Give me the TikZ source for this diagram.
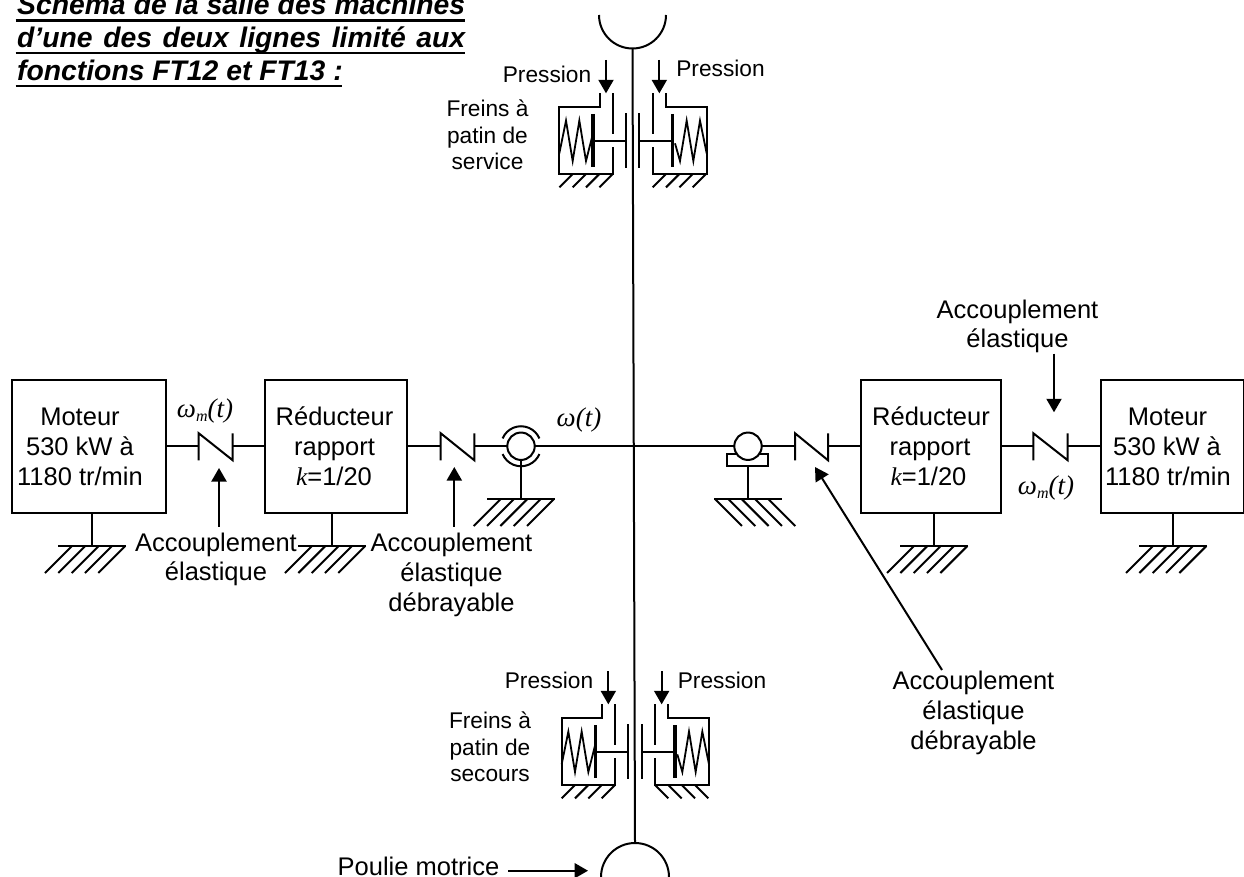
\documentclass[tikz,border=0pt]{standalone}
\usepackage{fontspec}
\setmainfont{Liberation Sans}
\newfontfamily\serfont{Liberation Serif}
\usetikzlibrary{arrows.meta}
\newcommand{\fontA}{\fontsize{25.5}{30}\selectfont}
\newcommand{\fontB}{\fontsize{22.7}{27}\selectfont}
\newcommand{\fontT}{\fontsize{28.3}{33}\selectfont\bfseries\itshape}
\newcommand{\omm}{{\serfont\itshape\fontsize{27}{30}\selectfont ω\raisebox{-4pt}{\fontsize{16}{16}\selectfont m}(t)}}
\newcommand{\kk}{{\serfont\itshape k}}
\tikzset{
  ln/.style={line width=2pt,black},
  spr/.style={line width=1.8pt,black,line join=miter},
  pist/.style={line width=3.6pt,black},
  arr/.style={line width=2pt,-{Triangle[length=13.5pt,width=15pt]}},
  box/.style={draw,line width=2pt,anchor=north west,inner sep=0pt,outer sep=0pt},
  lab/.style={anchor=base,inner sep=0pt,font=\fontA,text=black},
  labs/.style={anchor=base,inner sep=0pt,font=\fontB,text=black},
  ttl/.style={anchor=base west,inner sep=0pt,font=\fontT,text=black},
  bear/.style={circle,draw,line width=2pt,minimum size=27.4pt,inner sep=0pt,outer sep=0pt,fill=white}
}
\newcommand{\gnd}[3]{%
  \draw[ln] (#1-34,#2) -- (#1+34,#2);
  \foreach \k in {0,...,4}{
    \draw[ln] ({#1+#3*(-20.3+13.33*\k)},#2) -- ({#1+#3*(-47.3+13.33*\k)},#2+27);
  }}
\newcommand{\coupling}[4]{% name, x1, x2, y
  \coordinate (#1a) at (#2,#4);
  \coordinate (#1b) at (#3,#4);
  \draw[ln,line join=miter] (#2,#4+14) -- (#2,#4-13) -- (#3,#4+14) -- (#3,#4-13);
}
\newcommand{\brake}[3]{% xshift, yshift, hatch sign right
  \begin{scope}[xshift=#1pt,yshift=-#2pt,x=0.33333pt,y=-0.33333pt]
    \draw[ln,line join=miter] (360,280)--(360,322)--(238,322)--(238,522)--(398,522)--(398,440);
    \draw[ln] (398,280)--(398,403);
    \draw[pist] (339,342)--(339,500);
    \draw[ln] (339,422)--(437,422);
    \draw[ln] (437,340)--(437,503);
    \draw[spr] (238,460)--(258,362)--(278,483)--(298,362)--(318,483)--(339,400);
    \foreach \k in {0,...,3}{\draw[ln] (278+40*\k,522)--(238+40*\k,562);}
    \draw[arr] (378,180)--(378,280);
    \draw[ln,line join=miter] (558,280)--(558,322)--(680,322)--(680,522)--(518,522)--(518,440);
    \draw[ln] (518,280)--(518,403);
    \draw[pist] (578,342)--(578,500);
    \draw[ln] (478,422)--(578,422);
    \draw[ln] (478,340)--(478,503);
    \draw[spr] (585,430)--(600,483)--(620,362)--(640,483)--(660,362)--(680,460);
    \foreach \k in {0,...,3}{\draw[ln] ({538+40*\k+20*#3},522)--({538+40*\k-20*#3},562);}
    \draw[arr] (538,180)--(538,280);
  \end{scope}}
\begin{document}
\begin{tikzpicture}[x=1pt,y=-1pt]
\useasboundingbox (0,0) rectangle (1244,877);
\clip (0,0) rectangle (1244,877);
\fill[white] (0,0) rectangle (1244,877);

% title
\node[ttl] (t1) at (17,15) {\makebox[448pt][s]{Schéma de la salle des machines}};
\node[ttl] (t2) at (17,48) {\makebox[448pt][s]{d’une des deux lignes limité aux}};
\node[ttl] (t3) at (17,81) {fonctions FT12 et FT13 :};
\draw[line width=2.4pt] (15.5,20.5) -- (465,20.5);
\draw[line width=2.4pt] (15.5,53) -- (465,53);
\draw[line width=2.4pt] (15.5,86) -- (342,86);

% vertical shaft and pulleys
\coordinate (ptop) at (632.5,48.5);
\coordinate (pbot) at (635,843);
\draw[ln] (ptop) -- (pbot);
\draw[ln] (599,15) arc (180:0:33.5);
\draw[ln] (601,877) arc (180:360:34);

% brakes
\brake{480}{0}{1}
\brake{482.33}{611}{-1}

% boxes
\node[box,minimum width=154.5pt,minimum height=133.5pt] (mL) at (11.7,379.5) {};
\node[box,minimum width=141.5pt,minimum height=133.5pt] (rL) at (265.3,379.5) {};
\node[box,minimum width=139.5pt,minimum height=133.5pt] (rR) at (861.3,379.5) {};
\node[box,minimum width=143pt,minimum height=133.5pt] (mR) at (1100.7,379.5) {};

% couplings
\coupling{c1}{198.7}{232.7}{446.25}
\coupling{c2}{440.7}{474.3}{446.25}
\coupling{c3}{795}{828}{446.25}
\coupling{c4}{1033.3}{1067.7}{446.25}

% bearings
\node[bear] (bL) at (521,446.25) {};
\draw[ln] ([shift={(-157:20)}]bL.center) arc (-157:-23:20);
\draw[ln] ([shift={(157:20)}]bL.center) arc (157:23:20);
\draw[ln] (727.3,453.5) rectangle (768.3,466);
\node[bear] (bR) at (748,446.25) {};
\coordinate (bRs) at (748,466);

% shafts
\draw[ln] (mL.east) -- (c1a);
\draw[ln] (c1b) -- (rL.west);
\draw[ln] (rL.east) -- (c2a);
\draw[ln] (c2b) -- (bL.west);
\draw[ln] (bL.east) -- (bR.west);
\draw[ln] (bR.east) -- (c3a);
\draw[ln] (c3b) -- (rR.west);
\draw[ln] (rR.east) -- (c4a);
\draw[ln] (c4b) -- (mR.west);

% grounds
\draw[ln] (mL.south -| 92.3,0) -- (92.3,546);
\gnd{92.3}{546}{1}
\draw[ln] (rL.south -| 332.3,0) -- (332.3,546);
\gnd{332.3}{546}{1}
\draw[ln] (bL.south) -- (521,499);
\gnd{521}{499}{1}
\draw[ln] (bRs) -- (748,499);
\gnd{748}{499}{-1}
\draw[ln] (rR.south -| 934.3,0) -- (934.3,546);
\gnd{934.3}{546}{1}
\draw[ln] (mR.south -| 1173.3,0) -- (1173.3,546);
\gnd{1173.3}{546}{1}

% labels
\node[lab] (m1) at (80,425.5) {Moteur};
\node[lab] (m2) at (80,455) {530 kW à};
\node[lab] (m3) at (80,485) {1180 tr/min};
\node[lab] (r1) at (334.5,425.5) {Réducteur};
\node[lab] (r2) at (334.5,455) {rapport};
\node[lab] (r3) at (334,485) {\kk=1/20};
\node[lab] (r4) at (931,425.5) {Réducteur};
\node[lab] (r5) at (930,455) {rapport};
\node[lab] (r6) at (928.5,485) {\kk=1/20};
\node[lab] (m4) at (1167.5,425.5) {Moteur};
\node[lab] (m5) at (1167,455) {530 kW à};
\node[lab] (m6) at (1168,485) {1180 tr/min};

\node[lab] (a1) at (216,551) {Accouplement};
\node[lab] (a2) at (216,580) {élastique};
\node[lab] (a3) at (451.5,551) {Accouplement};
\node[lab] (a4) at (451.5,581) {élastique};
\node[lab] (a5) at (451.5,611) {débrayable};
\node[lab] (a6) at (1017.5,318) {Accouplement};
\node[lab] (a7) at (1017.5,347) {élastique};
\node[lab] (a8) at (973.5,689) {Accouplement};
\node[lab] (a9) at (973.5,719) {élastique};
\node[lab] (a10) at (973.5,749) {débrayable};
\node[lab] (pm) at (418.5,875.5) {Poulie motrice};

\node[lab] (w1) at (205,417) {\omm};
\node[lab] (w2) at (1046,494) {\omm};
\node[lab] (w3) at (579,426) {\serfont\itshape\fontsize{27}{30}\selectfont ω(t)};

\node[labs] (p1) at (547,83) {Pression};
\node[labs] (p2) at (720.5,76.5) {Pression};
\node[labs] (p3) at (549,688) {Pression};
\node[labs] (p4) at (722,688) {Pression};
\node[labs] (f1) at (487.5,117) {Freins à};
\node[labs] (f2) at (487.5,143.5) {patin de};
\node[labs] (f3) at (487.5,170) {service};
\node[labs] (f4) at (490,728) {Freins à};
\node[labs] (f5) at (490,755) {patin de};
\node[labs] (f6) at (490,781) {secours};

% arrows
\coordinate (A1s) at (219,526.7); \coordinate (A1e) at (219,468);
\coordinate (A2s) at (454.3,526.7); \coordinate (A2e) at (454.3,467);
\coordinate (A3s) at (1054,353.5); \coordinate (A3e) at (1054,412.3);
\coordinate (A4s) at (942,670); \coordinate (A4e) at (815,467);
\coordinate (A5s) at (508,870.7); \coordinate (A5e) at (588,870.7);
\draw[arr] (A1s) -- (A1e);
\draw[arr] (A2s) -- (A2e);
\draw[arr] (A3s) -- (A3e);
\draw[arr] (A4s) -- (A4e);
\draw[arr] (A5s) -- (A5e);
\end{tikzpicture}
\end{document}
